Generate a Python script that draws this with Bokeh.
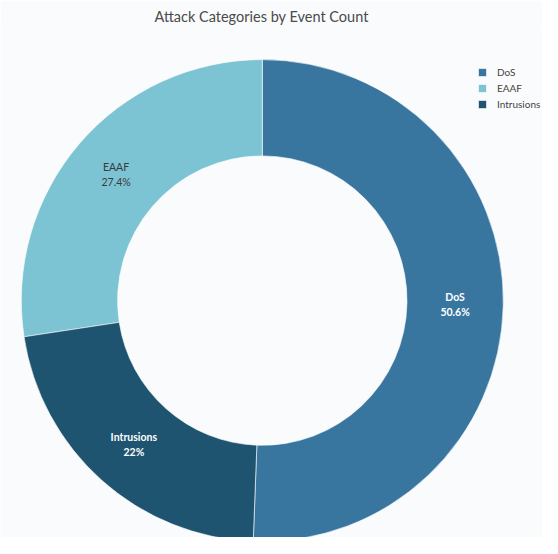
import numpy as np
from bokeh.plotting import figure
from bokeh.models import Range1d, Legend, LegendItem, ColumnDataSource
from bokeh.core.properties import value
from bokeh.embed import file_html
from bokeh.resources import INLINE

categories = ["DoS", "EAAF", "Intrusions"]
shares = [50.6, 27.4, 22.0]
colors = ["#38769f", "#7cc4d3", "#1f5471"]
label_colors = ["#ffffff", "#3a3a3a", "#ffffff"]
label_styles = ["bold", "normal", "bold"]

FW, FH, T = 542, 508, 30
cx, cy = 261.8, FH - (301.1 - T)
r_in, r_out = 144.7, 241

frac = np.array(shares) / sum(shares)
start0 = np.pi / 2 - 2 * np.pi * frac[0]
ends = start0 + 2 * np.pi * np.cumsum(frac)
starts = ends - 2 * np.pi * frac
mids = (starts + ends) / 2
r_lab = (r_in + r_out) / 2

src = ColumnDataSource(dict(
    cat=categories, start=starts, end=ends, color=colors,
    lx=cx + r_lab * np.cos(mids), ly=cy + r_lab * np.sin(mids),
    txt=[f"{c}\n{s:g}%" for c, s in zip(categories, shares)],
    tcol=label_colors, tsty=label_styles,
))

bg = "#fafbfc"
p = figure(frame_width=FW, frame_height=FH, output_backend="svg", toolbar_location=None,
           x_range=Range1d(0, FW), y_range=Range1d(0, FH),
           min_border=0, title="Attack Categories by Event Count")
p.background_fill_color = bg
p.border_fill_color = bg
p.outline_line_color = None
p.axis.visible = False
p.grid.visible = False
p.title.align = "left"
p.title.offset = 154
p.title.text_font = "Lato"
p.title.text_font_size = "14.5px"
p.title.text_font_style = "normal"
p.title.text_color = "#4a4a4a"

r = p.annular_wedge(x=cx, y=cy, inner_radius=r_in, outer_radius=r_out,
                    inner_radius_units="screen", outer_radius_units="screen",
                    start_angle="start", end_angle="end", fill_color="color",
                    line_color="white", line_width=0.6, source=src)
p.text(x="lx", y="ly", text="txt", text_color="tcol", text_font_style="tsty",
       text_font=value("Lato"), text_font_size="10.5px", text_align="center",
       text_baseline="middle", text_line_height=1.25, source=src)

legend = Legend(items=[LegendItem(label=c, renderers=[r], index=i) for i, c in enumerate(categories)],
                location=(477, 426.6), glyph_width=10, glyph_height=10, label_height=10,
                label_standoff=10, spacing=4, padding=0, margin=0,
                label_text_font="Lato", label_text_font_size="10px",
                label_text_color="#444444", background_fill_alpha=0, border_line_alpha=0)
p.add_layout(legend)

open("out.html", "w").write(file_html(p, INLINE))
